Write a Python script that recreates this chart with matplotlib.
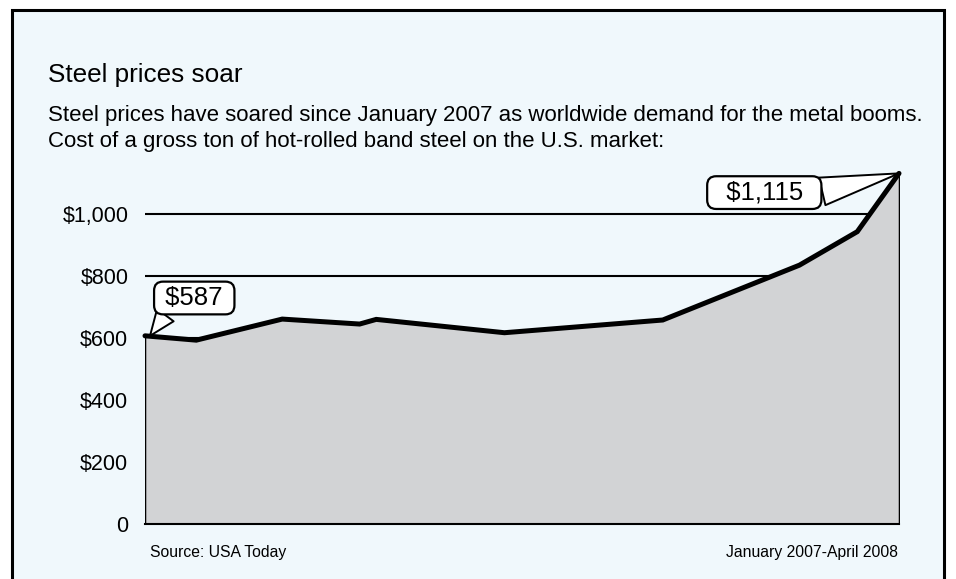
import matplotlib.pyplot as plt
from matplotlib.patches import Rectangle

# months since January 2007 and the price of a gross ton
months = [0, 1.02, 2.73, 4.27, 4.6, 7.15, 10.3, 13.02, 14.17, 15]
prices = [608, 594, 662, 646, 661, 618, 659, 836, 944, 1132]
yticks = [0, 200, 400, 600, 800, 1000]
ylabels = ['0', '$200', '$400', '$600', '$800', '$1,000']

bg = '#f0f8fc'
fill = '#d2d3d5'
W, H = 956, 579

fig = plt.figure(figsize=(W / 100, H / 100), dpi=100)
fig.patch.set_facecolor('white')

# outer framed panel
fig.patches.append(Rectangle((12 / W, -0.05), (944 - 12) / W, (H - 10) / H + 0.05,
                             transform=fig.transFigure, facecolor=bg,
                             edgecolor='black', linewidth=2.2, zorder=-5))

font = 'Liberation Sans'
fig.text(48 / W, 1 - 75 / H, 'Steel prices soar', fontsize=18.8, family=font, va='center')
fig.text(48 / W, 1 - 116 / H,
         'Steel prices have soared since January 2007 as worldwide demand for the metal booms.',
         fontsize=16, family=font, va='center')
fig.text(48 / W, 1 - 141 / H,
         'Cost of a gross ton of hot-rolled band steel on the U.S. market:',
         fontsize=16, family=font, va='center')

ax = fig.add_axes([145 / W, (H - 524.3) / H, (899 - 145) / W, 372 / H])
ax.set_facecolor('none')
ax.set_xlim(0, 15)
ax.set_ylim(0, 1200)

for y in yticks[1:]:
    ax.axhline(y, color='black', linewidth=1.5, zorder=1)

ax.fill_between(months, prices, 0, facecolor=fill, edgecolor='black', linewidth=1.1, zorder=2)
ax.plot(months, prices, color='black', linewidth=3.6, solid_capstyle='round',
        solid_joinstyle='miter', clip_on=False, zorder=3)

ax.set_yticks(yticks)
ax.set_yticklabels(ylabels, family=font, fontsize=15.5)
ax.tick_params(axis='y', length=0, pad=12)
ax.set_xticks([])
for s in ['top', 'right', 'left']:
    ax.spines[s].set_visible(False)
ax.spines['bottom'].set_linewidth(1.5)
ax.spines['bottom'].set_zorder(4)

box = dict(boxstyle='round,pad=0.17,rounding_size=0.35', facecolor='white',
           edgecolor='black', linewidth=1.6)
ax.annotate(' $587 ', xy=(months[0] + 0.1, prices[0]), xytext=(0.98, 730),
            ha='center', va='center', fontsize=18.5, family=font, bbox=box,
            arrowprops=dict(arrowstyle='wedge,tail_width=0.8', facecolor='white',
                            edgecolor='black', linewidth=1.4, relpos=(0.15, 0.0),
                            shrinkA=0, shrinkB=0),
            zorder=5, annotation_clip=False)
ax.annotate('  $1,115  ', xy=(months[-1], prices[-1]), xytext=(12.32, 1070),
            ha='center', va='center', fontsize=18.5, family=font, bbox=box,
            arrowprops=dict(arrowstyle='wedge,tail_width=1.1', facecolor='white',
                            edgecolor='black', linewidth=1.4, relpos=(1.0, 0.5),
                            shrinkA=0, shrinkB=0),
            zorder=5, annotation_clip=False)

fig.text(150 / W, 1 - 553 / H, 'Source: USA Today', fontsize=11.3, family=font, va='center')
fig.text(898 / W, 1 - 553 / H, 'January 2007-April 2008', fontsize=11.3, family=font,
         va='center', ha='right')

fig.savefig('out.png', dpi=100, facecolor='white')
